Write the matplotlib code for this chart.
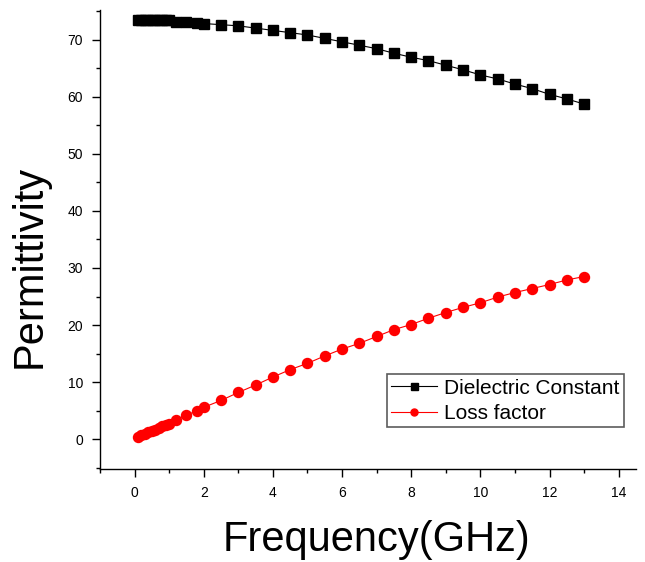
import matplotlib
matplotlib.use("Agg")
import matplotlib.pyplot as plt
from matplotlib.ticker import MultipleLocator

plt.rcParams["font.family"] = ["Liberation Sans", "DejaVu Sans"]

# Frequency points (GHz)
freq = [0.1, 0.2, 0.3, 0.4, 0.5, 0.6, 0.7, 0.8, 0.9, 1.0,
        1.2, 1.5, 1.8, 2.0,
        2.5, 3.0, 3.5, 4.0, 4.5, 5.0, 5.5, 6.0, 6.5, 7.0, 7.5,
        8.0, 8.5, 9.0, 9.5, 10.0, 10.5, 11.0, 11.5, 12.0, 12.5, 13.0]

# Dielectric constant (real part)
dielectric = [73.45, 73.45, 73.45, 73.45, 73.4, 73.4, 73.4, 73.4, 73.35, 73.35,
              73.1, 73.05, 72.9, 72.8,
              72.6, 72.4, 72.0, 71.6, 71.2, 70.8, 70.2, 69.6, 69.0, 68.4, 67.6,
              66.9, 66.3, 65.5, 64.7, 63.8, 63.1, 62.2, 61.4, 60.4, 59.6, 58.7]

# Loss factor (imaginary part)
loss = [0.45, 0.7, 0.95, 1.2, 1.45, 1.7, 2.0, 2.25, 2.5, 2.75,
        3.3, 4.2, 5.0, 5.6,
        6.8, 8.2, 9.5, 10.9, 12.2, 13.3, 14.6, 15.8, 16.8, 18.0, 19.2,
        20.1, 21.2, 22.2, 23.1, 23.9, 24.9, 25.7, 26.4, 27.1, 27.9, 28.5]

fig = plt.figure(figsize=(6.45, 5.62), dpi=100)
ax = fig.add_axes([0.155, 0.166, 0.831, 0.816])

ax.plot(freq, dielectric, color="black", lw=0.8, marker="s", ms=7.2,
        label="Dielectric Constant")
ax.plot(freq, loss, color="red", lw=0.8, marker="o", ms=7.2,
        label="Loss factor")

ax.set_xlim(-1, 14.5)
ax.set_ylim(-5.15, 75.15)
ax.xaxis.set_major_locator(MultipleLocator(2))
ax.xaxis.set_minor_locator(MultipleLocator(1))
ax.yaxis.set_major_locator(MultipleLocator(10))
ax.yaxis.set_minor_locator(MultipleLocator(5))

for side in ["top", "right"]:
    ax.spines[side].set_visible(False)
for side in ["left", "bottom"]:
    ax.spines[side].set_linewidth(1.0)

ax.tick_params(which="major", direction="out", length=5.8, width=1.0,
               labelsize=10, pad=6.5)
ax.tick_params(which="minor", direction="out", length=2.9, width=1.0)

fig.text(30 / 645, 1 - 266 / 562, "Permittivity", rotation=90,
         ha="center", va="center", fontsize=30)
fig.text(376 / 645, 1 - 540 / 562, "Frequency(GHz)",
         ha="center", va="center", fontsize=30)

leg = ax.legend(loc="lower left", bbox_to_anchor=(387 / 645, 1 - 427 / 562),
                bbox_transform=fig.transFigure, fontsize=15, frameon=True,
                fancybox=False, edgecolor="#333333", borderpad=0.2,
                handlelength=2.2, handletextpad=0.35, labelspacing=0.3,
                markerscale=0.7, borderaxespad=0)
leg.get_frame().set_linewidth(1.2)

fig.savefig("out.png", dpi=100)
